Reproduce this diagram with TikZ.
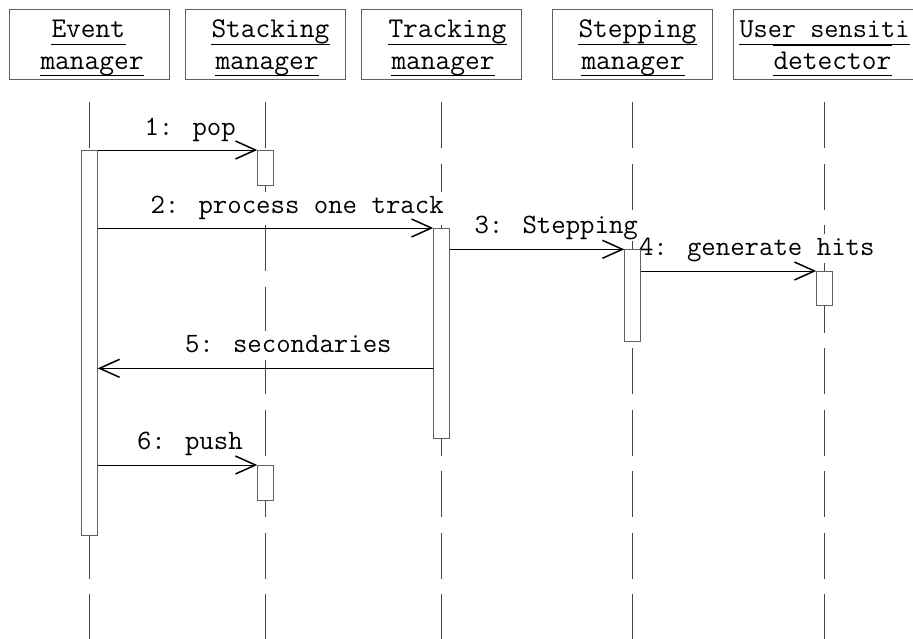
\documentclass[tikz,border=0pt]{standalone}
\usepackage{fontspec}
\usetikzlibrary{arrows.meta}
\definecolor{framegray}{RGB}{96,96,96}
\definecolor{lifegray}{RGB}{70,70,70}
\begin{document}
\begin{tikzpicture}[x=1pt,y=-1pt,line width=1pt,
  hdrbox/.style={draw=framegray,minimum width=160pt,minimum height=69.4pt,anchor=north west,inner sep=0pt},
  act/.style={draw=framegray,fill=white,minimum width=15.5pt,anchor=north,inner sep=0pt},
  life/.style={draw=lifegray,dash pattern=on 46pt off 15.5pt},
  msg/.style={draw=black,-{Straight Barb[length=20pt,width=18pt,line width=1.5pt]}},
  mono/.style={font=\ttfamily\fontsize{28pt}{30pt}\selectfont},
  hmono/.style={font=\ttfamily\fontsize{28.6pt}{30pt}\selectfont},
  htop/.style={hmono,fill=white,inner sep=0pt,text height=22.5pt,text depth=6pt,anchor=base west},
  hbot/.style={hmono,inner sep=0pt,text height=19pt,text depth=5pt,anchor=base west},
  lbl/.style={mono,fill=white,inner sep=1.5pt,text height=19.5pt,text depth=6pt,anchor=base west},
  uline/.style={draw=black}]
\useasboundingbox (0,0) rectangle (913,638);
\clip (0,0) rectangle (913,638);

% object boxes of the sequence diagram
\node[hdrbox] (hEv) at (9,9.3) {};
\node[hdrbox] (hSt) at (185,9.3) {};
\node[hdrbox] (hTr) at (361,9.3) {};
\node[hdrbox] (hSp) at (552,9.3) {};
\node[hdrbox,minimum width=182pt] (hUs) at (733,9.3) {};

% underlined object names
\node[htop] (tEv) at (51,37.5) {Event\ };
\node[hbot] (bEv) at (40,69.5) {manager};
\node[htop] (tSt) at (211,37.5) {Stacking\ };
\node[hbot] (bSt) at (215,69.5) {manager};
\node[htop] (tTr) at (388,37.5) {Tracking\ };
\node[hbot] (bTr) at (391,69.5) {manager};
\node[htop] (tSp) at (578,37.5) {Stepping\ };
\node[hbot] (bSp) at (581,69.5) {manager};
\node[htop,font=\ttfamily\fontsize{27.5pt}{30pt}\selectfont] (tUs) at (739,37.5) {User sensiti};
\node[hbot] (bUs) at (773,69.5) {detector};
\foreach \n in {tEv,bEv,tSt,bSt,tTr,bTr,tSp,bSp,tUs,bUs}
  \draw[uline] (\n.south west) -- (\n.south east);
\draw[uline] ([yshift=-1pt]tUs.south -| bUs.west) -- ([yshift=-1pt]tUs.south -| bUs.east);

% lifelines
\coordinate (top) at (0,102);
\coordinate (bot) at (0,640);
\foreach \h in {hEv,hSt,hTr,hSp,hUs}
  \draw[life] (\h.south |- top) -- (\h.south |- bot);

% message labels
\node[lbl] (l1) at (142.5,135) {1: pop};
\node[lbl] (l2) at (148.5,213) {2: process one track};
\node[lbl] (l3) at (472.5,233) {3: Stepping};
\node[lbl] (l4) at (637,255) {4: generate hits};
\node[lbl] (l5) at (183,352) {5: secondaries};
\node[lbl] (l6) at (135,449) {6: push};

% activation bars
\node[act,minimum height=385pt] (aEv) at (hEv.south |- 0,150) {};
\node[act,minimum height=35pt] (aPop) at (hSt.south |- 0,150) {};
\node[act,minimum height=209.7pt] (aTr) at (hTr.south |- 0,228) {};
\node[act,minimum height=91.4pt] (aSp) at (hSp.south |- 0,249.3) {};
\node[act,minimum height=34.3pt] (aUs) at (hUs.south |- 0,271) {};
\node[act,minimum height=35pt] (aPush) at (hSt.south |- 0,465) {};

% messages
\coordinate (r5) at (0,368.3);
\draw[msg] (aEv.north east) -- (aPop.north west);
\draw[msg] (aEv.east |- aTr.north) -- (aTr.north west);
\draw[msg] (aTr.east |- aSp.north) -- (aSp.north west);
\draw[msg] (aSp.east |- aUs.north) -- (aUs.north west);
\draw[msg] (aTr.west |- r5) -- (aEv.east |- r5);
\draw[msg] (aEv.east |- aPush.north) -- (aPush.north west);
\end{tikzpicture}
\end{document}
